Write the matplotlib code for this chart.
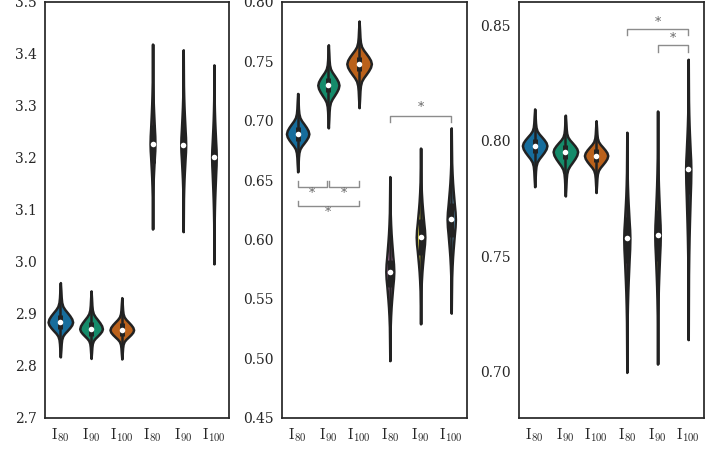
import colorsys
import numpy as np
import matplotlib
matplotlib.use('Agg')
import matplotlib.pyplot as plt
import matplotlib.colors as mcolors

plt.rcParams['font.family'] = 'DejaVu Serif'
plt.rcParams['mathtext.fontset'] = 'cm'

# x labels and colours (same for every panel)
labels = [r'$\mathrm{I}_{80}$', r'$\mathrm{I}_{90}$', r'$\mathrm{I}_{100}$'] * 2
palette = ['#0173B2', '#029E73', '#D55E00', '#CC78BC', '#ECE133', '#56B4E9']

# panel 1
p1_lo = [2.817, 2.814, 2.813, 3.063, 3.058, 2.996]
p1_hi = [2.960, 2.944, 2.931, 3.419, 3.408, 3.379]
p1_med = [2.884, 2.871, 2.869, 3.227, 3.225, 3.202]
p1_q1 = [2.871, 2.858, 2.857, 3.190, 3.190, 3.163]
p1_q3 = [2.897, 2.884, 2.882, 3.263, 3.262, 3.240]
p1_width = [0.80, 0.74, 0.77, 0.16, 0.16, 0.15]
p1_ylim = (2.7, 3.5)
p1_ticks = [2.7, 2.8, 2.9, 3.0, 3.1, 3.2, 3.3, 3.4, 3.5]

# panel 2
p2_lo = [0.657, 0.694, 0.711, 0.498, 0.529, 0.538]
p2_hi = [0.723, 0.764, 0.784, 0.653, 0.677, 0.694]
p2_med = [0.689, 0.730, 0.748, 0.573, 0.602, 0.617]
p2_q1 = [0.683, 0.724, 0.742, 0.560, 0.587, 0.602]
p2_q3 = [0.695, 0.736, 0.754, 0.583, 0.617, 0.631]
p2_width = [0.73, 0.69, 0.80, 0.26, 0.28, 0.27]
p2_ylim = (0.45, 0.80)
p2_ticks = [0.45, 0.50, 0.55, 0.60, 0.65, 0.70, 0.75, 0.80]

# panel 3
p3_lo = [0.7800, 0.7760, 0.7775, 0.6996, 0.7032, 0.7138]
p3_hi = [0.8137, 0.8110, 0.8086, 0.8036, 0.8128, 0.8352]
p3_med = [0.7978, 0.7952, 0.7935, 0.7577, 0.7592, 0.7876]
p3_q1 = [0.7948, 0.7922, 0.7905, 0.7470, 0.7480, 0.7770]
p3_q3 = [0.8008, 0.7982, 0.7965, 0.7670, 0.7700, 0.7980]
p3_width = [0.80, 0.80, 0.76, 0.20, 0.18, 0.17]
p3_ylim = (0.68, 0.86)
p3_ticks = [0.70, 0.75, 0.80, 0.85]

# violin outline: position between median (0) and
# tail end (+-1), and relative half width there
shape_u = [-1.0, -0.8, -0.62, -0.5, -0.4, -0.32, -0.24, -0.16, -0.08, 0.0,
           0.08, 0.16, 0.24, 0.32, 0.4, 0.5, 0.62, 0.8, 1.0]
wide_w = [0.0, 0.04, 0.07, 0.11, 0.2, 0.36, 0.57, 0.77, 0.93, 1.0,
          0.93, 0.77, 0.57, 0.36, 0.2, 0.11, 0.07, 0.04, 0.0]
thin_w = [0.0, 0.05, 0.1, 0.2, 0.32, 0.45, 0.6, 0.75, 0.92, 1.0,
          0.92, 0.75, 0.6, 0.45, 0.32, 0.2, 0.1, 0.05, 0.0]

# significance brackets: x1, x2, y of bar, y of tips, y of star
p2_brackets = [(0, 0.95, 0.6446, 0.6494, 0.6390),
               (1.03, 2.0, 0.6446, 0.6494, 0.6390),
               (0, 2.0, 0.6286, 0.6328, 0.6230),
               (3, 5, 0.7041, 0.6988, 0.7108)]
p3_brackets = [(3, 5, 0.8483, 0.8457, 0.8512),
               (4.03, 5, 0.8414, 0.8385, 0.8443)]

panels = [
    (p1_lo, p1_hi, p1_med, p1_q1, p1_q3, p1_width, p1_ylim, p1_ticks, '%.1f', []),
    (p2_lo, p2_hi, p2_med, p2_q1, p2_q3, p2_width, p2_ylim, p2_ticks, '%.2f', p2_brackets),
    (p3_lo, p3_hi, p3_med, p3_q1, p3_q3, p3_width, p3_ylim, p3_ticks, '%.2f', p3_brackets),
]


def desat(c, prop=0.75):
    h, l, s = colorsys.rgb_to_hls(*mcolors.to_rgb(c))
    return colorsys.hls_to_rgb(h, l, s * prop)


fig = plt.figure(figsize=(7.2, 4.5), dpi=100)
lefts = [45 / 720, 282.3 / 720, 519.3 / 720]
edge = '#222222'

for left, (lo, hi, med, q1, q3, width, ylim, ticks, fmt, brackets) in zip(lefts, panels):
    ax = fig.add_axes([left, 0.0718, 184.3 / 720, 0.9238])
    pos = np.arange(6)
    stats = []
    for i in range(6):
        u = np.array(shape_u)
        coords = np.where(u < 0, med[i] + u * (med[i] - lo[i]), med[i] + u * (hi[i] - med[i]))
        vals = np.array(wide_w if i < 3 else thin_w)
        stats.append(dict(coords=coords, vals=vals, mean=med[i], median=med[i],
                          min=lo[i], max=hi[i]))
    parts = ax.violin(stats, positions=pos, widths=width, showextrema=False)
    for body, c in zip(parts['bodies'], palette):
        body.set_facecolor(desat(c))
        body.set_edgecolor(edge)
        body.set_linewidth(1.8)
        body.set_alpha(1)
        body.set_zorder(1)
    ax.vlines(pos, lo, hi, color=edge, lw=1.8, zorder=2)
    ax.vlines(pos, q1, q3, color=edge, lw=3.6, zorder=2)
    ax.scatter(pos, med, s=16, c='white', zorder=3, linewidths=0)

    for x1, x2, yb, yt, ys in brackets:
        ax.plot([x1, x1, x2, x2], [yt, yb, yb, yt], color='0.55', lw=1, zorder=1)
        ax.text((x1 + x2) / 2, ys, '*', ha='center', va='center', fontsize=9, color='0.4')

    ax.set_xlim(-0.5, 5.5)
    ax.set_ylim(*ylim)
    ax.set_xticks(pos)
    ax.set_xticklabels(labels, fontsize=11)
    ax.set_yticks(ticks)
    ax.set_yticklabels([fmt % t for t in ticks], fontsize=10)
    ax.tick_params(length=0, pad=6, labelcolor='.15')
    for sp in ax.spines.values():
        sp.set_color('.15')
        sp.set_linewidth(1.25)

fig.savefig('out.png', dpi=100)
